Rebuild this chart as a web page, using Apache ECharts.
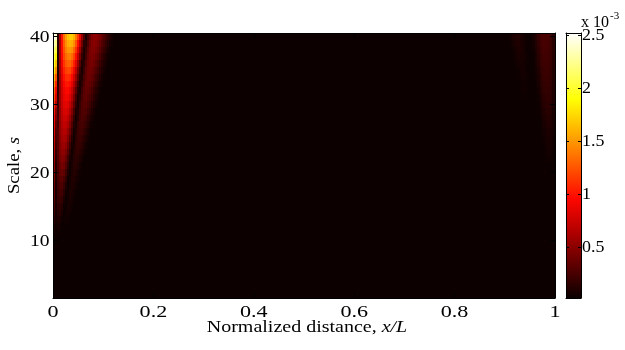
<!DOCTYPE html>
<html>
<head>
<meta charset="utf-8">
<script src="https://cdn.jsdelivr.net/npm/echarts@6/dist/echarts.min.js"></script>
<style>
  html, body { margin: 0; padding: 0; background: #fff; }
  #chart { width: 625px; height: 350px; }
</style>
</head>
<body>
<div id="chart"></div>
<script>
// Wavelet scalogram along the member: scale s against normalized distance x/L.
// Levels are in units of 1e-3.
const scaleFirst = 2;
const scaleLast = 40;
const distanceTicks = [0, 0.2, 0.4, 0.6, 0.8, 1];
const scaleTicks = [10, 20, 30, 40];
const levelTicks = [0.5, 1, 1.5, 2, 2.5];
const levelMin = 0.016;
const levelMax = 2.52;
const floorLevel = 0.02;
const startStep = 0.004;   // cell width next to x/L = 0
const endStep = 0.005;     // cell width next to x/L = 1

// Cells next to x/L = 0; first row is s = 40, then s = 39, ... Each row starts at x/L = 0.
const nearStart = [
  [2.5, 2.38, 0.13, 0.6, 1.02, 1.33, 1.53, 1.65, 1.7, 1.7, 1.6, 1.39, 1.16, 0.85, 0.54, 0.26, 0.07, 0.2, 0.35, 0.45, 0.5, 0.5, 0.47, 0.42, 0.35, 0.28, 0.21, 0.15, 0.1, 0.06],
  [2.35, 2.23, 0.12, 0.59, 0.99, 1.28, 1.46, 1.57, 1.6, 1.58, 1.47, 1.25, 0.99, 0.69, 0.4, 0.14, 0.11, 0.25, 0.38, 0.46, 0.48, 0.47, 0.42, 0.36, 0.29, 0.23, 0.16, 0.11, 0.07, 0.04],
  [2.2, 2.05, 0.11, 0.6, 0.98, 1.23, 1.4, 1.48, 1.5, 1.46, 1.32, 1.11, 0.84, 0.56, 0.28, 0.08, 0.17, 0.31, 0.41, 0.46, 0.46, 0.43, 0.38, 0.31, 0.24, 0.17, 0.12, 0.07, 0.04],
  [2.08, 1.87, 0.1, 0.59, 0.95, 1.18, 1.32, 1.39, 1.4, 1.34, 1.18, 0.97, 0.7, 0.42, 0.18, 0.07, 0.22, 0.34, 0.42, 0.44, 0.42, 0.38, 0.32, 0.25, 0.18, 0.13, 0.08, 0.04, 0.03],
  [1.95, 1.66, 0.1, 0.59, 0.91, 1.12, 1.24, 1.3, 1.3, 1.22, 1.04, 0.82, 0.56, 0.3, 0.09, 0.13, 0.27, 0.37, 0.42, 0.42, 0.39, 0.33, 0.26, 0.2, 0.14, 0.09, 0.05, 0.03],
  [1.78, 1.46, 0.09, 0.58, 0.86, 1.06, 1.16, 1.2, 1.19, 1.08, 0.9, 0.67, 0.43, 0.19, 0.05, 0.19, 0.31, 0.38, 0.4, 0.38, 0.34, 0.28, 0.21, 0.15, 0.1, 0.06, 0.03],
  [1.6, 1.25, 0.1, 0.56, 0.83, 0.99, 1.08, 1.1, 1.07, 0.96, 0.77, 0.55, 0.31, 0.1, 0.1, 0.24, 0.33, 0.38, 0.38, 0.34, 0.29, 0.22, 0.16, 0.11, 0.06, 0.03],
  [1.45, 1.07, 0.12, 0.55, 0.79, 0.93, 1.01, 1.02, 0.97, 0.84, 0.65, 0.43, 0.21, 0.05, 0.15, 0.27, 0.35, 0.36, 0.34, 0.3, 0.24, 0.17, 0.12, 0.07, 0.04],
  [1.3, 0.91, 0.15, 0.54, 0.76, 0.88, 0.95, 0.95, 0.88, 0.73, 0.54, 0.32, 0.12, 0.07, 0.2, 0.3, 0.34, 0.33, 0.3, 0.24, 0.18, 0.13, 0.08, 0.04],
  [1.2, 0.79, 0.18, 0.55, 0.74, 0.86, 0.9, 0.89, 0.8, 0.65, 0.44, 0.23, 0.06, 0.12, 0.24, 0.31, 0.32, 0.3, 0.25, 0.2, 0.14, 0.09, 0.05, 0.03],
  [1.1, 0.66, 0.2, 0.54, 0.72, 0.82, 0.85, 0.82, 0.71, 0.55, 0.35, 0.15, 0.05, 0.17, 0.26, 0.3, 0.29, 0.26, 0.2, 0.15, 0.1, 0.06, 0.03],
  [1.02, 0.5, 0.22, 0.53, 0.7, 0.78, 0.8, 0.76, 0.63, 0.46, 0.26, 0.08, 0.09, 0.2, 0.27, 0.28, 0.26, 0.21, 0.16, 0.1, 0.06, 0.03],
  [0.95, 0.43, 0.24, 0.53, 0.67, 0.74, 0.75, 0.69, 0.55, 0.37, 0.17, 0.04, 0.13, 0.22, 0.26, 0.25, 0.22, 0.16, 0.11, 0.07, 0.04],
  [0.9, 0.34, 0.24, 0.51, 0.64, 0.7, 0.69, 0.62, 0.46, 0.28, 0.1, 0.06, 0.17, 0.23, 0.24, 0.21, 0.17, 0.12, 0.07, 0.04],
  [0.85, 0.28, 0.29, 0.5, 0.61, 0.66, 0.64, 0.53, 0.38, 0.2, 0.05, 0.1, 0.19, 0.22, 0.21, 0.17, 0.13, 0.08, 0.04],
  [0.78, 0.25, 0.29, 0.48, 0.58, 0.61, 0.58, 0.46, 0.29, 0.12, 0.04, 0.13, 0.19, 0.2, 0.17, 0.13, 0.09, 0.05],
  [0.72, 0.22, 0.29, 0.46, 0.54, 0.56, 0.51, 0.38, 0.21, 0.06, 0.07, 0.15, 0.18, 0.17, 0.14, 0.09, 0.05, 0.03],
  [0.66, 0.18, 0.29, 0.44, 0.5, 0.51, 0.43, 0.3, 0.14, 0.03, 0.1, 0.15, 0.16, 0.13, 0.1, 0.06, 0.03],
  [0.6, 0.15, 0.28, 0.41, 0.46, 0.45, 0.35, 0.22, 0.07, 0.05, 0.11, 0.14, 0.13, 0.1, 0.06, 0.03],
  [0.55, 0.12, 0.27, 0.37, 0.41, 0.39, 0.29, 0.15, 0.03, 0.07, 0.12, 0.12, 0.1, 0.06, 0.03],
  [0.5, 0.1, 0.25, 0.34, 0.36, 0.32, 0.21, 0.08, 0.03, 0.09, 0.11, 0.1, 0.07, 0.04],
  [0.46, 0.1, 0.23, 0.3, 0.31, 0.25, 0.15, 0.03, 0.05, 0.1, 0.1, 0.07, 0.05],
  [0.42, 0.08, 0.21, 0.26, 0.26, 0.19, 0.09, 0.02, 0.07, 0.09, 0.08, 0.05, 0.03],
  [0.37, 0.08, 0.19, 0.23, 0.21, 0.14, 0.04, 0.04, 0.08, 0.08, 0.05, 0.03],
  [0.32, 0.08, 0.17, 0.19, 0.16, 0.09, 0.02, 0.05, 0.07, 0.06, 0.03],
  [0.26, 0.07, 0.14, 0.15, 0.11, 0.04, 0.02, 0.06, 0.06, 0.04],
  [0.2, 0.06, 0.11, 0.12, 0.07, 0.02, 0.04, 0.05, 0.04],
  [0.14, 0.06, 0.09, 0.08, 0.04, 0.02, 0.04, 0.04],
  [0.09, 0.04, 0.06, 0.05, 0.02, 0.02, 0.03],
  [0.05, 0.03, 0.04, 0.03]
];

// Cells next to x/L = 1; first row is s = 40, then s = 39, ... Each row ends at x/L = 1.
const nearEnd = [
  [0.02, 0.03, 0.05, 0.08, 0.1, 0.1, 0.08, 0.05, 0.03, 0.02, 0.03, 0.06, 0.11, 0.18, 0.23, 0.25, 0.25, 0.24, 0.2, 0.13],
  [0.02, 0.02, 0.04, 0.06, 0.09, 0.09, 0.08, 0.05, 0.03, 0.02, 0.03, 0.05, 0.1, 0.16, 0.21, 0.24, 0.24, 0.23, 0.19, 0.12],
  [0.02, 0.02, 0.03, 0.04, 0.07, 0.08, 0.08, 0.06, 0.03, 0.02, 0.02, 0.04, 0.08, 0.14, 0.2, 0.23, 0.23, 0.22, 0.19, 0.12],
  [0.03, 0.05, 0.07, 0.07, 0.06, 0.04, 0.02, 0.02, 0.03, 0.07, 0.13, 0.18, 0.22, 0.22, 0.21, 0.18, 0.11],
  [0.04, 0.05, 0.06, 0.05, 0.04, 0.02, 0.02, 0.03, 0.06, 0.11, 0.17, 0.2, 0.21, 0.2, 0.17, 0.11],
  [0.04, 0.05, 0.05, 0.04, 0.02, 0.02, 0.02, 0.05, 0.09, 0.15, 0.19, 0.2, 0.19, 0.16, 0.1],
  [0.03, 0.04, 0.045, 0.04, 0.02, 0.02, 0.02, 0.04, 0.08, 0.13, 0.18, 0.19, 0.18, 0.16, 0.1],
  [0.03, 0.04, 0.035, 0.02, 0.02, 0.02, 0.03, 0.07, 0.12, 0.16, 0.18, 0.17, 0.15, 0.09],
  [0.03, 0.035, 0.035, 0.025, 0.02, 0.02, 0.02, 0.05, 0.11, 0.15, 0.17, 0.16, 0.14, 0.09],
  [0.03, 0.03, 0.025, 0.02, 0.02, 0.02, 0.04, 0.09, 0.13, 0.155, 0.15, 0.14, 0.08],
  [0.03, 0.07, 0.11, 0.14, 0.14, 0.12, 0.08],
  [0.03, 0.05, 0.09, 0.12, 0.125, 0.11, 0.07],
  [0.02, 0.04, 0.08, 0.1, 0.11, 0.1, 0.06],
  [0.03, 0.06, 0.09, 0.095, 0.09, 0.05],
  [0.02, 0.05, 0.07, 0.08, 0.07, 0.05],
  [0.04, 0.06, 0.07, 0.065, 0.04],
  [0.03, 0.05, 0.06, 0.057, 0.035],
  [0.025, 0.04, 0.05, 0.048, 0.03],
  [0.03, 0.04, 0.038, 0.025]
];

// MATLAB-style "hot" colour map: black -> red -> yellow -> white
const hotColors = ['#0b0000', '#5e0000', '#b20000', '#ff0700', '#ff5a00', '#ffae00', '#ffff04', '#ffff82', '#ffffff'];

// One row of cells per scale: explicit cells at both ends, one floor-level cell between them.
const cells = [];
for (let s = scaleLast; s >= scaleFirst; s--) {
  const head = nearStart[scaleLast - s] || [];
  const tail = nearEnd[scaleLast - s] || [];
  head.forEach((v, j) => cells.push([j * startStep, (j + 1) * startStep, s, v]));
  const headEnd = head.length * startStep;
  const tailStart = 1 - tail.length * endStep;
  cells.push([headEnd, tailStart, s, floorLevel]);
  tail.forEach((v, k) => cells.push([tailStart + k * endStep, tailStart + (k + 1) * endStep, s, v]));
}

const serif = 'Liberation Serif';
const frameLine = { show: true, onZero: false, lineStyle: { color: '#000', width: 1 } };

function frameAxis(gridIndex, position, min, max, ticks, tickLen) {
  return {
    type: 'value', gridIndex, position, min, max, z: 5,
    axisLine: frameLine,
    axisTick: ticks
      ? { show: true, inside: true, length: tickLen, customValues: ticks, lineStyle: { color: '#000', width: 1 } }
      : { show: false },
    axisLabel: { show: false },
    splitLine: { show: false }
  };
}

const chart = echarts.init(document.getElementById('chart'), null, { renderer: 'canvas' });

chart.setOption({
  animation: false,
  backgroundColor: '#ffffff',
  grid: [
    { left: 53, top: 33, width: 502, height: 265, containLabel: false },
    { left: 566, top: 33, width: 15, height: 265, containLabel: false }
  ],
  xAxis: [
    frameAxis(0, 'bottom', 0, 1, distanceTicks, 5),
    frameAxis(0, 'top', 0, 1, distanceTicks, 5),
    frameAxis(1, 'bottom', 0, 1, null, 0),
    frameAxis(1, 'top', 0, 1, null, 0)
  ],
  yAxis: [
    frameAxis(0, 'left', scaleFirst - 0.5, scaleLast + 0.5, scaleTicks, 5),
    frameAxis(0, 'right', scaleFirst - 0.5, scaleLast + 0.5, scaleTicks, 5),
    frameAxis(1, 'left', levelMin, levelMax, levelTicks, 3),
    frameAxis(1, 'right', levelMin, levelMax, levelTicks, 3)
  ],
  visualMap: {
    type: 'continuous', show: false, seriesIndex: 0, dimension: 3,
    min: levelMin, max: levelMax,
    inRange: { color: hotColors }
  },
  series: [
    {
      type: 'custom',
      xAxisIndex: 0, yAxisIndex: 0,
      clip: true,
      silent: true,
      encode: { x: [0, 1], y: 2 },
      data: cells,
      renderItem(params, api) {
        // cell corners snapped to whole pixels so neighbouring cells meet without seams
        const a = api.coord([api.value(0), api.value(2) + 0.5]);
        const b = api.coord([api.value(1), api.value(2) - 0.5]);
        const x0 = Math.round(a[0]), y0 = Math.round(a[1]);
        const x1 = Math.round(b[0]), y1 = Math.round(b[1]);
        return {
          type: 'rect',
          shape: { x: x0, y: y0, width: Math.max(x1 - x0, 1), height: y1 - y0 },
          style: { fill: api.visual('color') }
        };
      }
    },
    {
      // colour bar
      type: 'custom',
      xAxisIndex: 2, yAxisIndex: 2,
      silent: true,
      encode: { x: [0, 1], y: [2, 3] },
      data: [[0, 1, levelMin, levelMax]],
      renderItem(params, api) {
        const a = api.coord([api.value(0), api.value(3)]);
        const b = api.coord([api.value(1), api.value(2)]);
        const stops = hotColors.map((c, i) => ({ offset: i / (hotColors.length - 1), color: c }));
        return {
          type: 'rect',
          shape: { x: a[0], y: a[1], width: b[0] - a[0], height: b[1] - a[1] },
          style: { fill: new echarts.graphic.LinearGradient(0, 1, 0, 0, stops) }
        };
      }
    }
  ]
});

// Axis text, placed from the axes' own pixel mapping
const toX = v => chart.convertToPixel({ xAxisIndex: 0 }, v);
const toY = v => chart.convertToPixel({ yAxisIndex: 0 }, v);
const toLevel = v => chart.convertToPixel({ yAxisIndex: 2 }, v);
const plotLeft = toX(0), plotRight = toX(1);
const plotTop = toY(scaleLast + 0.5), plotBottom = toY(scaleFirst - 0.5);
const barRight = chart.convertToPixel({ xAxisIndex: 2 }, 1);

function word(text, x, y, size, align, stretch, extra) {
  return Object.assign({
    type: 'text', x, y, scaleX: stretch, silent: true, z: 10,
    style: { text, fontFamily: serif, fontSize: size, fill: '#000', align, verticalAlign: 'middle' }
  }, extra || {});
}

const texts = [];
distanceTicks.forEach(v => texts.push(word(String(v), toX(v), plotBottom + 15, 17, 'center', 1.3)));
scaleTicks.forEach(v => texts.push(word(String(v), plotLeft - 3.5, toY(v) + 1, 17, 'right', 1.15)));
levelTicks.forEach(v => texts.push(word(String(v), barRight + 1, toLevel(v) + 1, 16, 'left', 1.12)));
texts.push(word('x 10', barRight, plotTop - 10, 16, 'left', 1.0));
texts.push(word('-3', barRight + 29, plotTop - 16.5, 11, 'left', 1.0));
texts.push({
  type: 'text', x: (plotLeft + plotRight) / 2 + 3, y: plotBottom + 30, scaleX: 1.25, silent: true, z: 10,
  style: {
    text: 'Normalized distance, {i|x/L}', fontFamily: serif, fontSize: 16, fill: '#000',
    align: 'center', verticalAlign: 'middle',
    rich: { i: { fontFamily: serif, fontSize: 16, fontStyle: 'italic', fill: '#000' } }
  }
});
texts.push({
  type: 'text', x: plotLeft - 38, y: (plotTop + plotBottom) / 2, rotation: Math.PI / 2, scaleX: 1.17, silent: true, z: 10,
  style: {
    text: 'Scale, {i|s}', fontFamily: serif, fontSize: 16, fill: '#000',
    align: 'center', verticalAlign: 'middle',
    rich: { i: { fontFamily: serif, fontSize: 16, fontStyle: 'italic', fill: '#000' } }
  }
});

chart.setOption({ graphic: texts });
</script>
</body>
</html>
